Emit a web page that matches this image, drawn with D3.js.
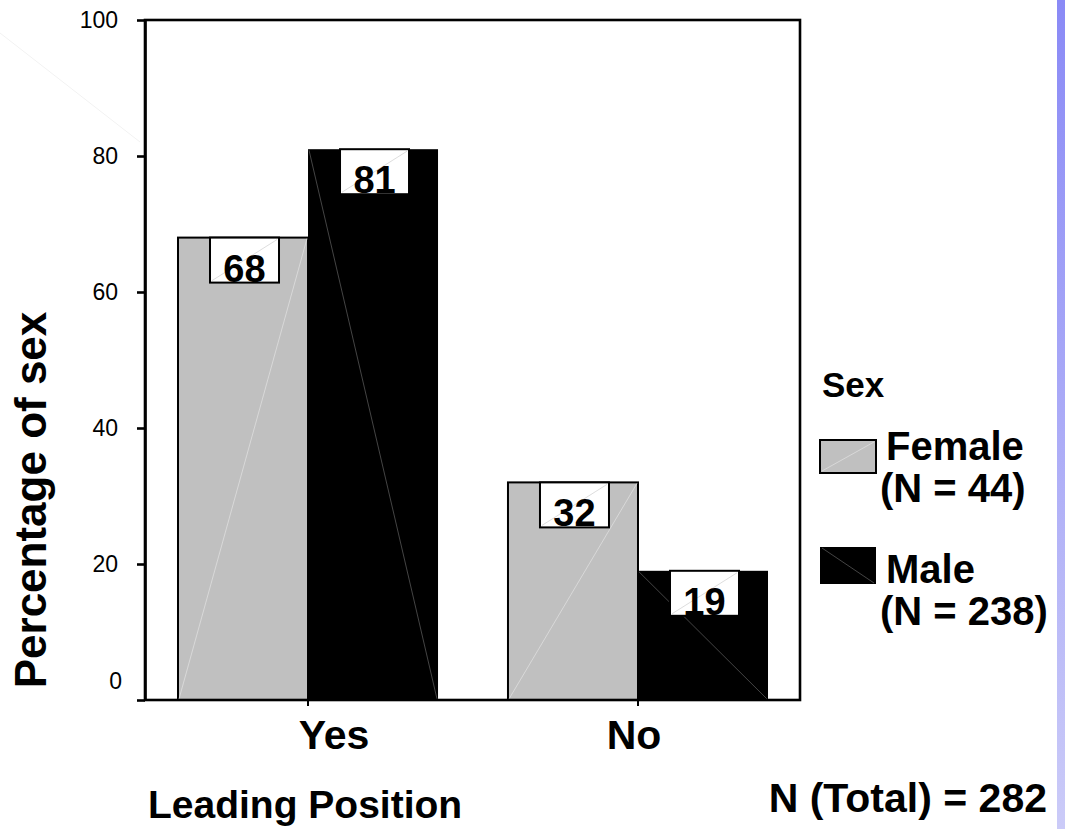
<!DOCTYPE html>
<html>
<head>
<meta charset="utf-8">
<script src="https://cdn.jsdelivr.net/npm/d3@7/dist/d3.min.js"></script>
<style>
  html, body { margin: 0; padding: 0; background: #fff; }
  svg { display: block; }
  text { font-family: "Liberation Sans", Arial, Helvetica, sans-serif; fill: #000; }
</style>
</head>
<body>
<svg id="chart" width="1065" height="829"></svg>
<script>
// ---- data ----
const categories = ["Yes", "No"];
const sexes = ["Female", "Male"];
const femaleValues = [68, 32];
const maleValues = [81, 19];
const yTickValues = [0, 20, 40, 60, 80, 100];
const legendTitle = "Sex";
const legendLabels = [["Female", "(N = 44)"], ["Male", "(N = 238)"]];
const xTitle = "Leading Position";
const yTitle = "Percentage of sex";
const totalLabel = "N (Total) = 282";

const seriesValues = { Female: femaleValues, Male: maleValues };
const fills = { Female: "#c0c0c0", Male: "#000000" };

const svg = d3.select("#chart");
const W = 1065, H = 829;

// blue side stripe
const defs = svg.append("defs");
const grad = defs.append("linearGradient").attr("id", "stripe")
  .attr("x1", 0).attr("y1", 0).attr("x2", 0).attr("y2", 1);
grad.append("stop").attr("offset", "0%").attr("stop-color", "#8a8af6");
grad.append("stop").attr("offset", "100%").attr("stop-color", "#cbcbf8");
svg.append("rect").attr("x", 1057).attr("y", 0).attr("width", 8).attr("height", H)
  .attr("fill", "url(#stripe)");

// faint artifact line top-left
svg.append("line").attr("x1", 0).attr("y1", 33).attr("x2", 140).attr("y2", 142)
  .attr("stroke", "#f2f2f2").attr("stroke-width", 1);

// ---- scales ----
const plot = { left: 145, right: 800, top: 20, bottom: 700 };
const y = d3.scaleLinear().domain([0, 100]).range([plot.bottom, plot.top]);
const x0 = d3.scaleBand().domain(categories).range([plot.left, 801])
  .paddingInner(0.212).paddingOuter(0.1);
const x1 = d3.scaleBand().domain(sexes).range([0, x0.bandwidth()]).padding(0);

const rows = [];
categories.forEach((c, i) => {
  sexes.forEach(s => rows.push({ cat: c, sex: s, value: seriesValues[s][i] }));
});

// ---- bars ----
const g = svg.append("g");
const bars = g.selectAll("g.bar").data(rows).enter().append("g").attr("class", "bar");
bars.append("rect")
  .attr("x", d => x0(d.cat) + x1(d.sex))
  .attr("y", d => y(d.value))
  .attr("width", x1.bandwidth())
  .attr("height", d => y(0) - y(d.value))
  .attr("fill", d => fills[d.sex])
  .attr("stroke", "#000")
  .attr("stroke-width", d => d.sex === "Female" ? 2 : 0);
// rendering diagonals
bars.append("line")
  .attr("x1", d => x0(d.cat) + x1(d.sex) + 1)
  .attr("y1", d => d.sex === "Female" ? y(0) - 1 : y(d.value) + 1)
  .attr("x2", d => x0(d.cat) + x1(d.sex) + x1.bandwidth() - 1)
  .attr("y2", d => d.sex === "Female" ? y(d.value) + 1 : y(0) - 1)
  .attr("stroke", d => d.sex === "Female" ? "#dedede" : "#555")
  .attr("stroke-width", 0.8);

// value boxes
const boxW = 69, boxH = 45;
const boxes = bars.append("g")
  .attr("transform", d => `translate(${x0(d.cat) + x1(d.sex) + x1.bandwidth() / 2 + 1.5},${y(d.value)})`);
boxes.append("rect")
  .attr("x", -boxW / 2).attr("y", 0).attr("width", boxW).attr("height", boxH)
  .attr("fill", "#fff").attr("stroke", "#000").attr("stroke-width", 2);
boxes.append("line")
  .attr("x1", -boxW / 2 + 2).attr("y1", boxH - 2).attr("x2", boxW / 2 - 2).attr("y2", 2)
  .attr("stroke", "#d4d4d4").attr("stroke-width", 0.8);
boxes.append("text")
  .attr("x", 0).attr("y", boxH - 1)
  .attr("text-anchor", "middle")
  .attr("font-size", 38).attr("font-weight", "bold")
  .text(d => d.value);

// ---- frame / axes ----
svg.append("rect")
  .attr("x", plot.left).attr("y", plot.top)
  .attr("width", plot.right - plot.left).attr("height", plot.bottom - plot.top)
  .attr("fill", "none").attr("stroke", "#000").attr("stroke-width", 2.6);

const yAxis = svg.append("g").attr("transform", `translate(${plot.left},0)`)
  .call(d3.axisLeft(y).tickValues(yTickValues).tickSize(8).tickSizeOuter(0).tickPadding(19));
yAxis.select(".domain").attr("stroke", "#000").attr("stroke-width", 2.6);
yAxis.selectAll(".tick line").attr("stroke", "#000").attr("stroke-width", 2.6);
yAxis.selectAll(".tick text")
  .attr("font-size", 23).attr("fill", "#000")
  .style("font-family", '"Liberation Sans", Arial, sans-serif')
  .attr("dy", d => d === 0 ? "-0.52em" : "0.34em")
  .attr("dx", d => d === 0 ? 4 : 0);

const xAxis = svg.append("g").attr("transform", `translate(0,${plot.bottom})`)
  .call(d3.axisBottom(x0).tickSize(6).tickSizeOuter(0).tickPadding(14));
xAxis.select(".domain").remove();
xAxis.selectAll(".tick line").attr("stroke", "#000").attr("stroke-width", 2);
xAxis.selectAll(".tick text")
  .attr("font-size", 41).attr("font-weight", "bold").attr("fill", "#000")
  .style("font-family", '"Liberation Sans", Arial, sans-serif')
  .attr("dy", "0.71em")
  .attr("dx", d => d === "Yes" ? 26 : -4);

// axis titles
svg.append("text")
  .attr("transform", "translate(46,500) rotate(-90)")
  .attr("text-anchor", "middle")
  .attr("font-size", 44).attr("font-weight", "bold")
  .text(yTitle);
svg.append("text")
  .attr("x", 148).attr("y", 818)
  .attr("font-size", 39).attr("font-weight", "bold")
  .text(xTitle);
svg.append("text")
  .attr("x", 1047).attr("y", 812)
  .attr("text-anchor", "end")
  .attr("font-size", 41).attr("font-weight", "bold")
  .text(totalLabel);

// ---- legend ----
svg.append("text")
  .attr("x", 822).attr("y", 397)
  .attr("font-size", 35).attr("font-weight", "bold")
  .text(legendTitle);
const legendTop = [440, 547];
const swH = [33, 37];
const textBase = [460, 583];
sexes.forEach((s, i) => {
  const lg = svg.append("g");
  lg.append("rect")
    .attr("x", 820).attr("y", legendTop[i]).attr("width", 56).attr("height", swH[i])
    .attr("fill", fills[s]).attr("stroke", "#000").attr("stroke-width", s === "Female" ? 2 : 0);
  lg.append("line")
    .attr("x1", 822).attr("y1", s === "Female" ? legendTop[i] + swH[i] - 2 : legendTop[i] + 1)
    .attr("x2", 874).attr("y2", s === "Female" ? legendTop[i] + 2 : legendTop[i] + swH[i] - 1)
    .attr("stroke", s === "Female" ? "#dedede" : "#555").attr("stroke-width", 0.8);
  lg.append("text")
    .attr("x", 886).attr("y", textBase[i])
    .attr("font-size", 40).attr("font-weight", "bold")
    .text(legendLabels[i][0]);
  lg.append("text")
    .attr("x", 880).attr("y", textBase[i] + 42)
    .attr("font-size", 40).attr("font-weight", "bold")
    .text(legendLabels[i][1]);
});
</script>
</body>
</html>
